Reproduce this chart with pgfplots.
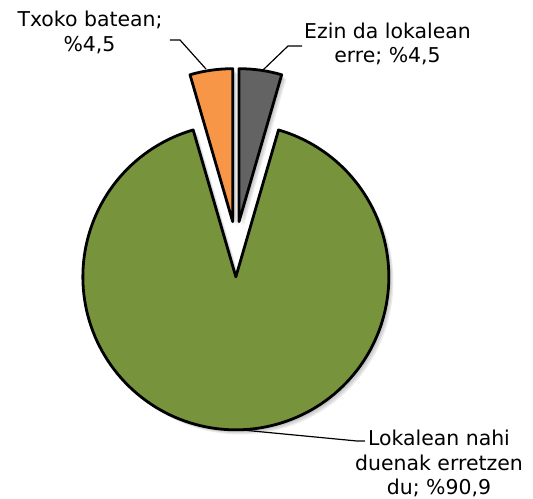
\documentclass[border=0pt]{standalone}
\usepackage{fontspec}
\setmainfont{DejaVu Sans}
\usepackage{pgfplots}
\pgfplotsset{compat=1.18}
\definecolor{sliceGray}{HTML}{636363}
\definecolor{sliceGreen}{HTML}{77933C}
\definecolor{sliceOrange}{HTML}{F79646}
% shares (percent): Ezin da lokalean erre 4.5, Lokalean nahi duenak erretzen du 90.9, Txoko batean 4.5
% angles: gray 73.8..90, green 106.2..433.8, orange 90..106.2
\begin{document}
\begin{tikzpicture}
\begin{axis}[
  width=533bp, height=499bp, scale only axis,
  xmin=-1.5415, xmax=1.9422, ymin=-1.6680, ymax=1.5935,
  hide axis, clip=false,
]
% soft shadows
\pgfplotsinvokeforeach{0.03,0.022,0.014}{
\addplot[fill=black, fill opacity=0.08, draw=none, domain=106.2:433.8, samples=120, variable=\t]
  ({#1+cos(t)},{-0.216-#1+sin(t)}) -- (axis cs:#1,-0.216-#1) -- cycle;
\addplot[fill=black, fill opacity=0.08, draw=none, domain=73.8:90, samples=20, variable=\t]
  ({0.0206+#1+cos(t)},{0.1445-#1+sin(t)}) -- (axis cs:0.0206+#1,0.1445-#1) -- cycle;
\addplot[fill=black, fill opacity=0.08, draw=none, domain=90:106.2, samples=20, variable=\t]
  ({-0.0206+#1+cos(t)},{0.1445-#1+sin(t)}) -- (axis cs:-0.0206+#1,0.1445-#1) -- cycle;
}
% slices
\addplot[fill=sliceGreen, draw=black, line width=2.8pt, line join=round, domain=106.2:433.8, samples=160, variable=\t]
  ({cos(t)},{-0.216+sin(t)}) -- (axis cs:0,-0.216) -- cycle;
\addplot[fill=sliceGray, draw=black, line width=2.8pt, line join=round, domain=73.8:90, samples=20, variable=\t]
  ({0.0206+cos(t)},{0.1445+sin(t)}) -- (axis cs:0.0206,0.1445) -- cycle;
\addplot[fill=sliceOrange, draw=black, line width=2.8pt, line join=round, domain=90:106.2, samples=20, variable=\t]
  ({-0.0206+cos(t)},{0.1445+sin(t)}) -- (axis cs:-0.0206,0.1445) -- cycle;
% leader lines
\draw[black, line width=1.2pt] (axis cs:-0.4305,1.3321) -- (axis cs:-0.3651,1.3321) -- (axis cs:-0.1951,1.1424);
\draw[black, line width=1.2pt] (axis cs:0.4324,1.2928) -- (axis cs:0.3409,1.2928) -- (axis cs:0.1775,1.1359);
\draw[black, line width=1.2pt] (axis cs:0.0140,-1.2144) -- (axis cs:0.7918,-1.2889) -- (axis cs:0.8441,-1.2889);
% labels
\begin{scope}[font=\fontsize{20.5}{25}\selectfont]
\node[anchor=base, inner sep=0pt] at (axis cs:-0.9533,1.4170) {Txoko batean;};
\node[anchor=base, inner sep=0pt] at (axis cs:-0.9565,1.2536) {\%4,5};
\node[anchor=base, inner sep=0pt] at (axis cs:0.9912,1.3386) {Ezin da lokalean};
\node[anchor=base, inner sep=0pt] at (axis cs:0.9912,1.1817) {erre; \%4,5};
\node[anchor=base, inner sep=0pt] at (axis cs:1.3278,-1.3215) {Lokalean nahi};
\node[anchor=base, inner sep=0pt] at (axis cs:1.3278,-1.4817) {duenak erretzen};
\node[anchor=base, inner sep=0pt] at (axis cs:1.3278,-1.6418) {du; \%90,9};
\end{scope}
\coordinate (bl) at (axis cs:-1.5415,-1.6680);
\coordinate (tr) at (axis cs:1.9422,1.5935);
\end{axis}
\pgfresetboundingbox
\path (bl) rectangle (tr);
\end{tikzpicture}
\end{document}
